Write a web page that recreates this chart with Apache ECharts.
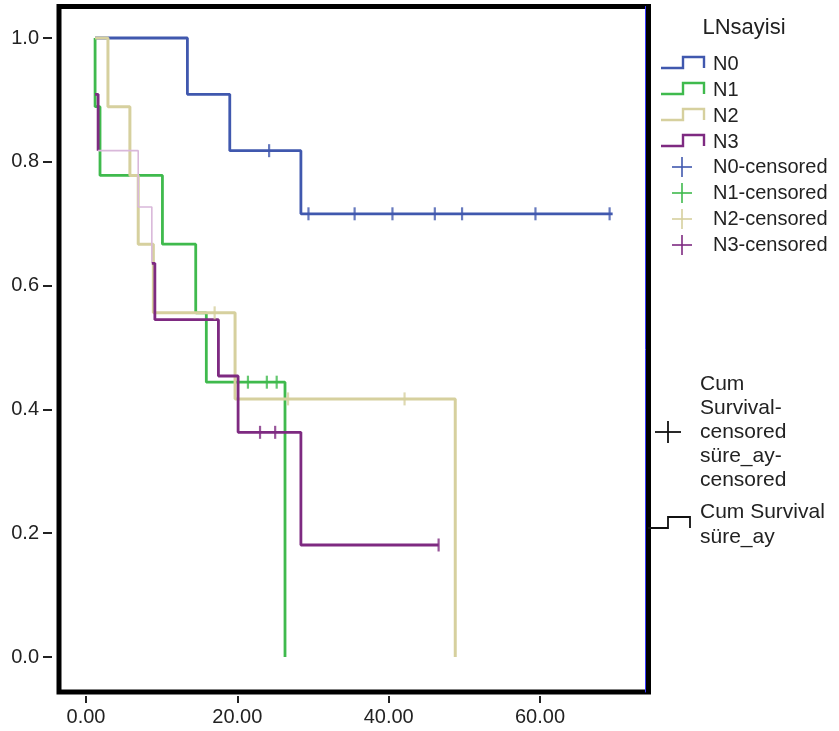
<!DOCTYPE html>
<html>
<head>
<meta charset="utf-8">
<style>
  html, body { margin: 0; padding: 0; background: #fff; }
  #chart { width: 839px; height: 731px; }
</style>
<script src="https://cdn.jsdelivr.net/npm/echarts@6/dist/echarts.min.js"></script>
</head>
<body>
<div id="chart"></div>
<script>
// ---- data ----
var groupNames = ['N0', 'N1', 'N2', 'N3'];
var groupColors = ['#4058ae', '#3fba4d', '#d6d09e', '#7e2a81'];
var lightN3Color = '#d9b8da';

var n0Times = [1.2, 13.4, 19.0, 28.4, 69.6];
var n0Surv  = [1.0, 0.909, 0.818, 0.716, 0.716];
var n1Times = [1.2, 1.2, 1.85, 10.1, 14.5, 15.9, 26.3];
var n1Surv  = [1.0, 0.889, 0.778, 0.667, 0.556, 0.444, 0.0];
var n2Times = [1.2, 2.9, 5.8, 6.9, 8.9, 19.7, 48.8];
var n2Surv  = [1.0, 0.889, 0.778, 0.667, 0.556, 0.417, 0.0];
var n3Times = [1.2, 1.6, 6.9, 8.7, 9.1, 17.5, 20.1, 28.4, 46.6];
var n3Surv  = [0.909, 0.818, 0.727, 0.636, 0.545, 0.454, 0.363, 0.181, 0.181];

var n0CensTimes = [24.2, 29.4, 35.5, 40.5, 46.1, 49.7, 59.4, 69.2];
var n0CensSurv  = [0.818, 0.716, 0.716, 0.716, 0.716, 0.716, 0.716, 0.716];
var n1CensTimes = [21.4, 23.9, 25.2];
var n1CensSurv  = [0.444, 0.444, 0.444];
var n2CensTimes = [17.0, 26.7, 42.1];
var n2CensSurv  = [0.556, 0.417, 0.417];
var n3CensTimes = [23.0, 25.0, 46.6];
var n3CensSurv  = [0.363, 0.363, 0.181];

var xTicks = [0, 20, 40, 60];
var yTicks = [0, 0.2, 0.4, 0.6, 0.8, 1.0];

var legendTitle = 'LNsayisi';
var censoredLabels = ['N0-censored', 'N1-censored', 'N2-censored', 'N3-censored'];
var summaryCensoredLabel = 'Cum\nSurvival-\ncensored\nsüre_ay-\ncensored';
var summaryLineLabel = 'Cum Survival\nsüre_ay';

// ---- build ----
function pairs(xs, ys, from, to) {
  var out = [];
  for (var i = (from || 0); i < (to === undefined ? xs.length : to); i++) out.push([xs[i], ys[i]]);
  return out;
}
var FONT = '"Liberation Sans", Arial, sans-serif';

function stepSeries(name, data, color, width) {
  return {
    name: name, type: 'line', step: 'end', data: data, showSymbol: false, symbol: 'none',
    lineStyle: { color: color, width: width }, animation: false, silent: true, z: 3
  };
}
function censSeries(name, data, color) {
  return {
    name: name, type: 'scatter', data: data, symbol: 'rect', symbolSize: [2.2, 13],
    itemStyle: { color: color }, animation: false, silent: true, z: 5
  };
}

var series = [
  stepSeries('N0', pairs(n0Times, n0Surv), groupColors[0], 2.8),
  stepSeries('N1', pairs(n1Times, n1Surv), groupColors[1], 2.8),
  stepSeries('N2', pairs(n2Times, n2Surv), groupColors[2], 3),
  stepSeries('N3', pairs(n3Times, n3Surv, 0, 2), groupColors[3], 2.8),
  stepSeries('N3', pairs(n3Times, n3Surv, 1, 4), lightN3Color, 1.6),
  stepSeries('N3', pairs(n3Times, n3Surv, 3), groupColors[3], 2.8),
  censSeries('N0-censored', pairs(n0CensTimes, n0CensSurv), groupColors[0]),
  censSeries('N1-censored', pairs(n1CensTimes, n1CensSurv), groupColors[1]),
  censSeries('N2-censored', pairs(n2CensTimes, n2CensSurv), groupColors[2]),
  censSeries('N3-censored', pairs(n3CensTimes, n3CensSurv), groupColors[3])
];

// legend graphics
var graphic = [];
graphic.push({
  type: 'text', x: 744, y: 28, silent: true,
  style: { text: legendTitle, font: '22px ' + FONT, fill: '#222', align: 'center', verticalAlign: 'middle' }
});
groupNames.forEach(function (nm, i) {
  var yLow = 68 + 26 * i, yHigh = 57 + 26 * i;
  graphic.push({
    type: 'polyline', silent: true,
    shape: { points: [[661, yLow], [683, yLow], [683, yHigh], [704, yHigh], [704, yLow]] },
    style: { stroke: groupColors[i], lineWidth: 2.4, fill: null }
  });
  graphic.push({
    type: 'text', x: 713, y: 64 + 26 * i, silent: true,
    style: { text: nm, font: '20px ' + FONT, fill: '#222', verticalAlign: 'middle' }
  });
});
censoredLabels.forEach(function (lb, i) {
  var cy = 167 + 26 * i;
  graphic.push({ type: 'line', silent: true, shape: { x1: 672, y1: cy, x2: 692, y2: cy },
    style: { stroke: groupColors[i], lineWidth: 1.6 } });
  graphic.push({ type: 'line', silent: true, shape: { x1: 682, y1: cy - 10, x2: 682, y2: cy + 10 },
    style: { stroke: groupColors[i], lineWidth: 1.6 } });
  graphic.push({
    type: 'text', x: 713, y: cy, silent: true,
    style: { text: lb, font: '20px ' + FONT, fill: '#222', verticalAlign: 'middle' }
  });
});
// summary legend
graphic.push({ type: 'line', silent: true, shape: { x1: 655, y1: 432, x2: 681, y2: 432 },
  style: { stroke: '#111', lineWidth: 1.8 } });
graphic.push({ type: 'line', silent: true, shape: { x1: 668, y1: 421, x2: 668, y2: 443 },
  style: { stroke: '#111', lineWidth: 1.8 } });
graphic.push({
  type: 'text', x: 700, y: 372, silent: true,
  style: { text: summaryCensoredLabel, font: '21px ' + FONT, fill: '#222', lineHeight: 24, verticalAlign: 'top' }
});
graphic.push({
  type: 'polyline', silent: true,
  shape: { points: [[648, 528], [668, 528], [668, 517], [690, 517], [690, 528]] },
  style: { stroke: '#111', lineWidth: 1.8, fill: null }
});
graphic.push({
  type: 'text', x: 700, y: 500, silent: true,
  style: { text: summaryLineLabel, font: '21px ' + FONT, fill: '#222', lineHeight: 25, verticalAlign: 'top' }
});

var chart = echarts.init(document.getElementById('chart'), null, { renderer: 'canvas' });
chart.setOption({
  animation: false,
  backgroundColor: '#fff',
  grid: {
    left: 59, right: 190.5, top: 6.5, bottom: 39,
    show: true, borderColor: '#000', borderWidth: 5, backgroundColor: 'transparent',
    containLabel: false, outerBoundsMode: 'none'
  },
  xAxis: {
    type: 'value', min: -3.57, max: 74.34, position: 'bottom', offset: 4,
    axisLine: { show: false, onZero: false },
    axisTick: { show: true, length: 7, customValues: xTicks, lineStyle: { color: '#222', width: 2 } },
    axisLabel: {
      customValues: xTicks, margin: 11, fontSize: 20, fontFamily: FONT, color: '#222',
      formatter: function (v) { return v.toFixed(2); }
    },
    splitLine: { show: false }
  },
  yAxis: [{
    type: 'value', min: -0.0565, max: 1.0509, position: 'left', offset: 7,
    axisLine: { show: false, onZero: false },
    axisTick: { show: true, length: 9, customValues: yTicks, lineStyle: { color: '#222', width: 2 } },
    axisLabel: {
      customValues: yTicks, margin: 13, fontSize: 20, fontFamily: FONT, color: '#222',
      formatter: function (v) { return v.toFixed(1); }
    },
    splitLine: { show: false }
  }, {
    type: 'value', min: -0.0565, max: 1.0509, position: 'right', offset: -3.5,
    axisLine: { show: true, onZero: false, lineStyle: { color: '#3a3aff', width: 1 } },
    axisTick: { show: false }, axisLabel: { show: false }, splitLine: { show: false }
  }],
  series: series,
  graphic: graphic
});
</script>
</body>
</html>
